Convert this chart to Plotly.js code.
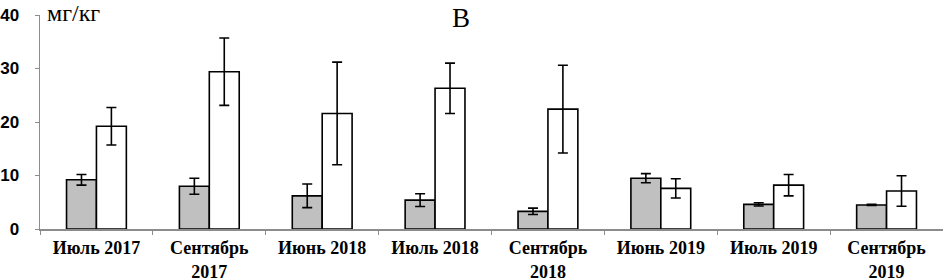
<!DOCTYPE html>
<html>
<head>
<meta charset="utf-8">
<script src="https://cdn.plot.ly/plotly-3.0.1.min.js"></script>
<style>html,body{margin:0;padding:0;background:#fff;}#chart{width:943px;height:280px;}</style>
</head>
<body>
<div id="chart"></div>
<script>
const categories = ["Июль 2017", "Сентябрь<br>2017", "Июнь 2018", "Июль 2018", "Сентябрь<br>2018", "Июнь 2019", "Июль 2019", "Сентябрь<br>2019"];
const grayValues = [9.2, 8.0, 6.2, 5.4, 3.3, 9.5, 4.6, 4.5];
const grayErrors = [1.0, 1.5, 2.2, 1.2, 0.6, 0.85, 0.3, 0.1];
const whiteValues = [19.2, 29.4, 21.6, 26.3, 22.4, 7.6, 8.2, 7.1];
const whiteErrors = [3.5, 6.3, 9.6, 4.7, 8.2, 1.8, 2.0, 2.85];
const yTicks = [0, 10, 20, 30, 40];

const errStyle = (arr) => ({type: 'data', array: arr, visible: true, color: '#000', thickness: 1.6, width: 5});

const traces = [
  {type: 'bar', x: categories, y: grayValues, error_y: errStyle(grayErrors),
   marker: {color: '#c0c0c0', line: {color: '#000', width: 1.6}}, showlegend: false, hoverinfo: 'skip'},
  {type: 'bar', x: categories, y: whiteValues, error_y: errStyle(whiteErrors),
   marker: {color: '#ffffff', line: {color: '#000', width: 1.6}}, showlegend: false, hoverinfo: 'skip'}
];

const layout = {
  width: 943, height: 280,
  margin: {l: 40, r: 0, t: 15, b: 51, pad: 0},
  paper_bgcolor: '#fff', plot_bgcolor: '#fff',
  barmode: 'group', bargap: 0.47, bargroupgap: 0,
  xaxis: {
    type: 'category', showline: true, linecolor: '#8c8c8c', linewidth: 1.5,
    ticks: 'outside', tickson: 'boundaries', ticklen: 4, tickcolor: '#8c8c8c',
    showgrid: false, zeroline: false,
    tickfont: {family: 'Liberation Serif, Times New Roman, serif', size: 18, color: '#000', weight: 'bold'},
    ticklabelstandoff: 2
  },
  yaxis: {
    range: [0, 40], tickvals: yTicks, ticktext: yTicks.map(String),
    showline: true, linecolor: '#8c8c8c', linewidth: 1.5,
    ticks: 'outside', ticklen: 4, tickcolor: '#8c8c8c',
    showgrid: false, zeroline: false,
    tickfont: {family: 'Liberation Sans, Arial, sans-serif', size: 17, color: '#000', weight: 'bold'},
    ticklabelstandoff: 12
  },
  annotations: [
    {text: 'мг/кг', xref: 'paper', yref: 'paper', x: 0.005, y: 1.01, xanchor: 'left', yanchor: 'middle', showarrow: false,
     font: {family: 'Liberation Serif, Times New Roman, serif', size: 24, color: '#000'}},
    {text: 'В', xref: 'paper', yref: 'paper', x: 0.466, y: 0.985, xanchor: 'center', yanchor: 'middle', showarrow: false,
     font: {family: 'Liberation Serif, Times New Roman, serif', size: 27, color: '#000'}}
  ]
};

Plotly.newPlot('chart', traces, layout, {displayModeBar: false, staticPlot: true});
</script>
</body>
</html>
